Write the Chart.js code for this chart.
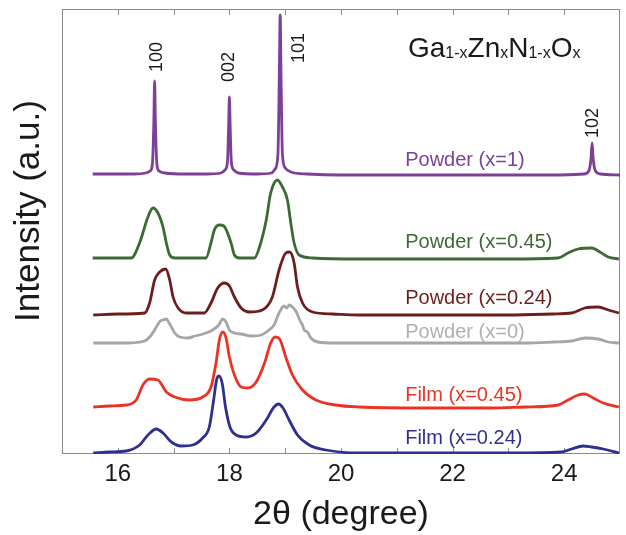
<!DOCTYPE html>
<html>
<head>
<meta charset="utf-8">
<title>XRD Ga1-xZnxN1-xOx</title>
<script src="https://cdn.jsdelivr.net/npm/chart.js@4.4.1/dist/chart.umd.min.js"></script>
<style>
    html, body { margin: 0; padding: 0; background: #ffffff; }
    #wrap { width: 626px; height: 535px; }
</style>
</head>
<body>
<div id="wrap"><canvas id="xrdChart" width="626" height="535"></canvas></div>
<script>
// 2θ (degree), stacked intensity (a.u.) for each pattern
const powderX1 = [
    [15.55, 280], [15.9, 280], [16.3, 280], [16.5, 281], [16.58, 283], [16.62, 290],
    [16.645, 330], [16.66, 373], [16.675, 330], [16.70, 290], [16.74, 283], [16.85, 281],
    [17.2, 280], [17.6, 280], [17.85, 281], [17.92, 284], [17.965, 292], [17.985, 325],
    [18.00, 357], [18.015, 325], [18.035, 292], [18.08, 284], [18.16, 281], [18.5, 280],
    [18.75, 281], [18.82, 285], [18.87, 300], [18.895, 380], [18.91, 439], [18.925, 380],
    [18.95, 300], [19.0, 286], [19.1, 282], [19.4, 280], [20.0, 279], [21.0, 279],
    [22.0, 279], [23.0, 279], [23.8, 279], [24.35, 280], [24.44, 283], [24.48, 295],
    [24.50, 311], [24.52, 295], [24.56, 283], [24.65, 280], [25.0, 279]
];
const powderX045 = [
    [15.55, 196], [15.9, 196], [16.24, 196], [16.39, 211], [16.54, 237], [16.63, 246],
    [16.72, 241], [16.81, 227], [16.87, 211], [16.93, 199], [17.02, 196], [17.3, 196],
    [17.58, 196], [17.67, 211], [17.73, 224], [17.82, 229], [17.90, 228], [18.03, 211],
    [18.09, 199], [18.18, 196], [18.45, 196], [18.54, 207], [18.66, 234], [18.74, 261],
    [18.86, 274], [18.95, 267], [19.04, 254], [19.10, 231], [19.16, 211], [19.25, 199],
    [19.49, 196], [20.32, 195], [21.2, 195], [22.1, 195], [23.0, 195], [23.89, 196],
    [24.07, 201], [24.25, 205], [24.49, 206], [24.64, 202], [24.79, 197], [24.98, 195]
];
const powderX024 = [
    [15.56, 139], [16.0, 140], [16.48, 141], [16.57, 151], [16.66, 174], [16.75, 182],
    [16.86, 185], [16.93, 174], [16.99, 157], [17.08, 146], [17.23, 141], [17.55, 141],
    [17.67, 151], [17.79, 166], [17.91, 171], [18.00, 168], [18.09, 157], [18.21, 146],
    [18.36, 142], [18.59, 144], [18.77, 157], [18.89, 184], [19.01, 201], [19.08, 202],
    [19.16, 191], [19.22, 167], [19.31, 151], [19.49, 142], [19.85, 140], [20.32, 139],
    [21.2, 139], [22.1, 139], [23.0, 139], [23.8, 140], [24.13, 141], [24.37, 146],
    [24.61, 147], [24.79, 144], [24.98, 141]
];
const powderX0 = [
    [15.56, 111], [16.15, 111], [16.48, 113], [16.60, 119], [16.69, 127], [16.76, 133],
    [16.81, 134], [16.87, 135], [16.92, 131], [16.96, 127], [17.02, 121], [17.11, 117],
    [17.26, 116], [17.38, 118], [17.46, 119], [17.58, 121], [17.70, 124], [17.81, 129],
    [17.88, 135], [17.94, 132], [18.00, 124], [18.09, 121], [18.21, 120], [18.39, 118],
    [18.57, 119], [18.71, 124], [18.80, 129], [18.89, 141], [18.98, 148], [19.03, 146],
    [19.07, 149], [19.13, 147], [19.20, 142], [19.26, 134], [19.31, 129], [19.34, 124],
    [19.40, 122], [19.46, 116], [19.58, 112], [19.9, 111], [20.32, 111], [21.3, 111],
    [22.3, 111], [23.3, 111], [23.8, 112], [24.13, 113], [24.37, 116], [24.61, 115],
    [24.79, 112], [24.98, 111]
];
const filmX045 = [
    [15.56, 47], [15.85, 48], [16.15, 49], [16.33, 54], [16.45, 69], [16.57, 75],
    [16.72, 74], [16.87, 62], [17.02, 57], [17.29, 54], [17.52, 57], [17.67, 67],
    [17.76, 91], [17.82, 114], [17.88, 122], [17.94, 116], [18.00, 97], [18.09, 79],
    [18.21, 67], [18.33, 66], [18.48, 72], [18.63, 91], [18.74, 111], [18.82, 117],
    [18.90, 115], [19.01, 97], [19.13, 79], [19.31, 64], [19.55, 54], [19.90, 49],
    [20.32, 47], [21.5, 46], [22.7, 46], [23.3, 47],
    [23.89, 49], [24.07, 54], [24.25, 59], [24.37, 60], [24.52, 56], [24.70, 51],
    [24.98, 47]
];
const filmX024 = [
    [15.56, 1], [15.85, 2], [16.15, 3], [16.39, 9], [16.54, 19], [16.69, 25],
    [16.81, 21], [16.96, 12], [17.14, 8], [17.34, 9], [17.52, 16], [17.64, 27],
    [17.71, 51], [17.77, 74], [17.81, 78], [17.87, 71], [17.93, 47], [18.01, 27],
    [18.12, 19], [18.30, 17], [18.48, 21], [18.66, 34], [18.80, 47], [18.88, 50],
    [18.96, 46], [19.07, 34], [19.22, 19], [19.43, 9], [19.73, 4], [20.32, 1],
    [21.0, 1], [22.4, 1], [23.1, 1], [23.95, 2], [24.13, 5],
    [24.34, 8], [24.49, 7], [24.70, 5], [24.98, 1]
];

const seriesData = [powderX1, powderX045, powderX024, powderX0, filmX045, filmX024];
const seriesNames = ['Powder (x=1)', 'Powder (x=0.45)', 'Powder (x=0.24)', 'Powder (x=0)', 'Film (x=0.45)', 'Film (x=0.24)'];
const seriesColors = ['#7d3f98', '#3c6a34', '#6e1d1d', '#a6a6a6', '#ea3324', '#2e2f8f'];
const seriesLabelColors = ['#7d3f98', '#3c6a34', '#6e1d1d', '#b0b0b0', '#ea3324', '#2e2f8f'];

// where each pattern name sits (2θ, intensity)
const seriesLabelX = 21.15;
const seriesLabelY = [294, 212, 156, 122, 59, 16];

// Miller indices of the x=1 reflections
const peakNames = ['100', '002', '101', '102'];
const peakLabelX = [16.70, 18.00, 19.25, 24.52];
const peakLabelY = [397, 387, 406, 331];

const xTicks = [16, 18, 20, 22, 24];

const fontFamily = '"Liberation Sans", Arial, Helvetica, sans-serif';
let chart = null;

// frame, inward ticks and the text sitting inside the plot
const decorations = {
    id: 'decorations',
    beforeDatasetsDraw(c) {
        const { ctx, chartArea: a, scales } = c;
        ctx.save();
        ctx.strokeStyle = '#8a8a8a';
        ctx.lineWidth = 1;
        ctx.strokeRect(a.left + 0.5, a.top + 0.5, a.right - a.left - 1, a.bottom - a.top - 1);
        ctx.beginPath();
        for (let v = 16; v <= 24; v++) {
            const px = Math.round(scales.x.getPixelForValue(v)) + 0.5;
            ctx.moveTo(px, a.bottom);
            ctx.lineTo(px, a.bottom - 6);
            ctx.moveTo(px, a.top);
            ctx.lineTo(px, a.top + 6);
        }
        ctx.stroke();
        ctx.restore();
    },
    afterDatasetsDraw(c) {
        const { ctx, scales } = c;
        const x = scales.x, y = scales.y;
        ctx.save();

        // pattern names
        ctx.font = '20px ' + fontFamily;
        ctx.textAlign = 'left';
        ctx.textBaseline = 'middle';
        seriesNames.forEach((name, i) => {
            ctx.fillStyle = seriesLabelColors[i];
            ctx.fillText(name, x.getPixelForValue(seriesLabelX), y.getPixelForValue(seriesLabelY[i]));
        });

        // rotated peak indices
        ctx.fillStyle = '#1a1a1a';
        ctx.font = '18px ' + fontFamily;
        ctx.textAlign = 'center';
        peakNames.forEach((name, i) => {
            ctx.save();
            ctx.translate(x.getPixelForValue(peakLabelX[i]), y.getPixelForValue(peakLabelY[i]));
            ctx.rotate(-Math.PI / 2);
            ctx.fillText(name, 0, 0);
            ctx.restore();
        });

        // formula with subscripts
        const parts = [['Ga', false], ['1-x', true], ['Zn', false], ['x', true], ['N', false], ['1-x', true], ['O', false], ['x', true]];
        let px = 408;
        const base = 57;
        ctx.textAlign = 'left';
        ctx.textBaseline = 'alphabetic';
        parts.forEach(([txt, sub]) => {
            ctx.font = (sub ? '16px ' : '28px ') + fontFamily;
            ctx.fillText(txt, px, sub ? base + 1 : base);
            px += ctx.measureText(txt).width;
        });

        // y axis title
        ctx.font = '35px ' + fontFamily;
        ctx.textAlign = 'center';
        ctx.textBaseline = 'middle';
        ctx.translate(29, 211);
        ctx.rotate(-Math.PI / 2);
        ctx.fillText('Intensity (a.u.)', 0, 0);
        ctx.restore();
    }
};

function initChart() {
    const canvas = document.getElementById('xrdChart');
    if (!canvas) {
        console.error('Chart canvas not found');
        return;
    }

    Chart.defaults.font.family = fontFamily;

    chart = new Chart(canvas.getContext('2d'), {
        type: 'line',
        data: {
            datasets: seriesData.map((pts, i) => ({
                label: seriesNames[i],
                data: pts.map(p => ({ x: p[0], y: p[1] })),
                borderColor: seriesColors[i],
                borderWidth: 2.8,
                pointRadius: 0,
                cubicInterpolationMode: 'monotone',
                fill: false
            }))
        },
        options: {
            responsive: false,
            animation: false,
            layout: { padding: { left: 62, right: 4, top: 9, bottom: 0 } },
            plugins: {
                legend: { display: false },
                tooltip: { enabled: false }
            },
            scales: {
                x: {
                    type: 'linear',
                    min: 15,
                    max: 25,
                    grid: { display: false, drawTicks: false },
                    border: { display: false },
                    ticks: {
                        stepSize: 1,
                        autoSkip: false,
                        maxRotation: 0,
                        padding: 6,
                        color: '#1a1a1a',
                        font: { size: 24 },
                        callback: v => xTicks.includes(v) ? String(v) : ''
                    },
                    title: {
                        display: true,
                        text: '2θ (degree)',
                        color: '#1a1a1a',
                        font: { size: 34, lineHeight: 1.2 },
                        padding: 0
                    },
                    afterFit: scale => { scale.height = 81; }
                },
                y: {
                    display: false,
                    min: 0,
                    max: 445
                }
            }
        },
        plugins: [decorations]
    });
}

document.addEventListener('DOMContentLoaded', initChart);
</script>
</body>
</html>
